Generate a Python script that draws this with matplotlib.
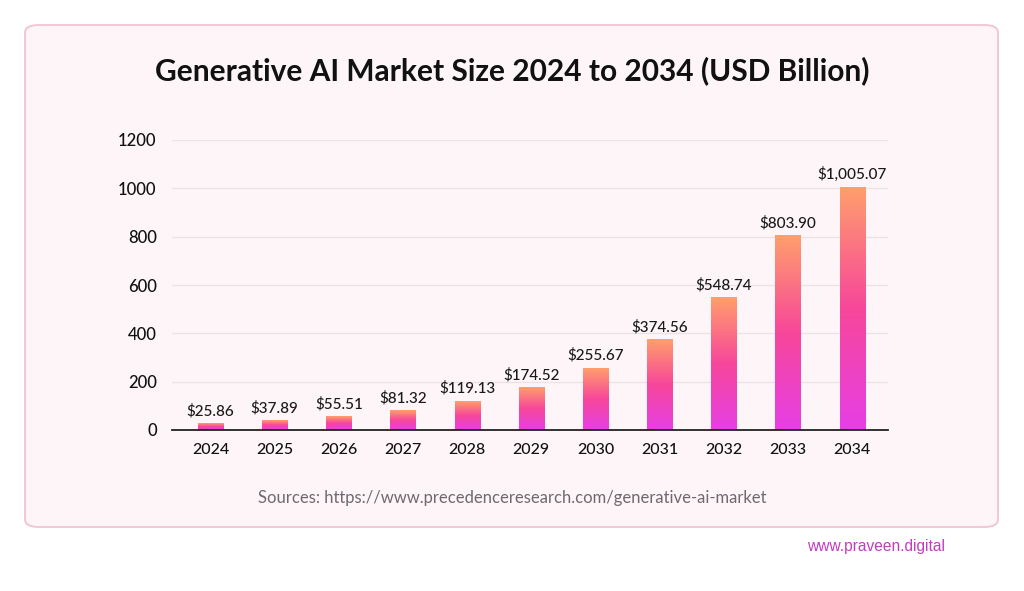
import matplotlib
matplotlib.use("Agg")
import matplotlib.pyplot as plt
from matplotlib.patches import FancyBboxPatch
from matplotlib.colors import LinearSegmentedColormap
import numpy as np

# ---- data ----
years = ["2024", "2025", "2026", "2027", "2028", "2029", "2030", "2031", "2032", "2033", "2034"]
market = [25.86, 37.89, 55.51, 81.32, 119.13, 174.52, 255.67, 374.56, 548.74, 803.90, 1005.07]
yticks = [0, 200, 400, 600, 800, 1000, 1200]

# ---- palette ----
CARD = "#fdf5f8"
EDGE = "#f1c3d3"
GRID = "#ece2e6"
SRC = "#6e6870"
MARK = "#c43cc0"
grad = LinearSegmentedColormap.from_list("bar", ["#e63fe6", "#f7479a", "#ff9f6c"])

plt.rcParams["font.family"] = ["Lato", "DejaVu Sans"]

W, H = 1024, 591
fig = plt.figure(figsize=(W / 100, H / 100), dpi=100)
fig.patch.set_facecolor("white")

# card background
card = FancyBboxPatch((25 / W, 1 - 527 / H), 973 / W, 502 / H,
                      boxstyle="round,pad=0,rounding_size=0.013",
                      transform=fig.transFigure, facecolor=CARD,
                      edgecolor=EDGE, lw=1.3, zorder=-5)
fig.patches.append(card)

ax = fig.add_axes([172 / W, 1 - 430 / H, (888 - 172) / W, 290 / H])
ax.set_facecolor("none")
x = np.arange(len(years))
bw = 0.39
bars = ax.bar(x, market, width=bw, color="none", zorder=3)

g = np.linspace(0, 1, 256).reshape(-1, 1)
for b, v in zip(bars, market):
    x0 = b.get_x()
    ax.imshow(g, cmap=grad, origin="lower", aspect="auto",
              extent=(x0, x0 + bw, 0, v), zorder=3, interpolation="bilinear")
    ax.text(b.get_x() + bw / 2, v + 22, f"${v:,.2f}", ha="center", va="bottom",
            fontsize=11, color="#1a1a1a", fontweight="medium")

ax.set_xlim(-0.6, 10.56)
ax.set_ylim(0, 1200)
ax.set_xticks(x)
ax.set_xticklabels(years)
ax.set_yticks(yticks)
ax.tick_params(axis="both", length=0, colors="#111111")
ax.tick_params(axis="x", pad=9, labelsize=11.5)
ax.tick_params(axis="y", pad=11, labelsize=12)
for lab in ax.get_xticklabels() + ax.get_yticklabels():
    lab.set_fontweight("medium")
ax.grid(axis="y", color=GRID, lw=0.9)
ax.set_axisbelow(True)
for s in ("top", "right", "left"):
    ax.spines[s].set_visible(False)
ax.spines["bottom"].set_color("#222222")
ax.spines["bottom"].set_linewidth(1.3)
ax.spines["bottom"].set_zorder(4)

fig.text(0.5, 1 - 71 / H, "Generative AI Market Size 2024 to 2034 (USD Billion)",
         ha="center", va="center", fontsize=21.5, fontweight="bold", color="#111111")
fig.text(0.5, 1 - 498 / H, "Sources: https://www.precedenceresearch.com/generative-ai-market",
         ha="center", va="center", fontsize=12, color=SRC)
fig.text(945 / W, 1 - 546 / H, "www.praveen.digital", ha="right", va="center",
         fontsize=11.2, color=MARK, family=["Liberation Sans", "DejaVu Sans"])

fig.savefig("out.png", dpi=100, facecolor="white")
